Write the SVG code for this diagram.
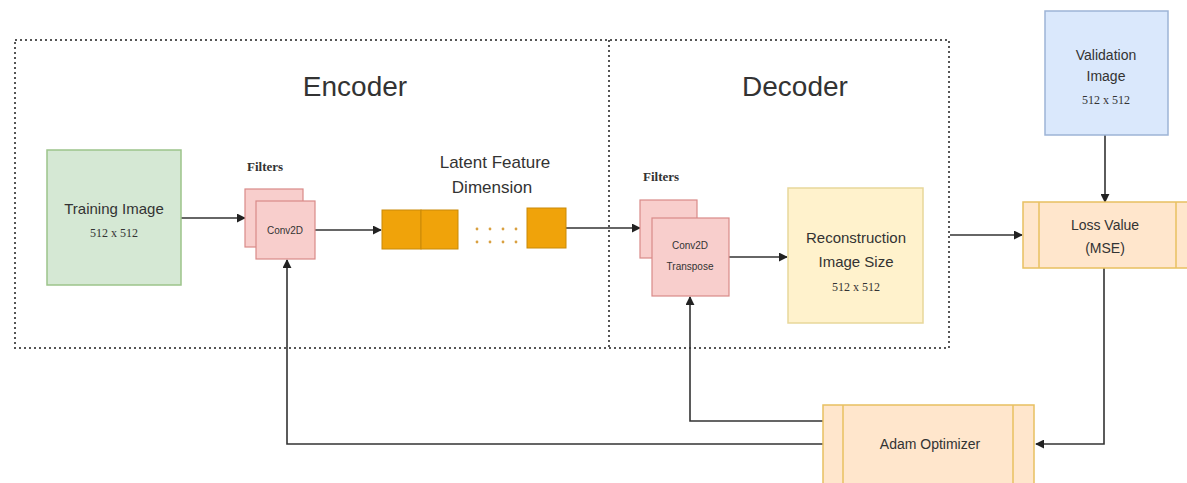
<svg xmlns="http://www.w3.org/2000/svg" width="1187" height="483" viewBox="0 0 1187 483">
<style>
.t{font-family:"Liberation Sans",Arial,sans-serif;fill:#333;text-anchor:middle}
.s{font-family:"Liberation Serif","Times New Roman",serif;fill:#333;text-anchor:middle;font-size:12px}
.f{font-family:"Liberation Serif","Times New Roman",serif;fill:#333;font-size:13px;font-weight:bold}
.ln{fill:none;stroke:#333;stroke-width:1.6}
.pink{fill:#f8cecc;stroke:#d98a88;stroke-width:1.2}
.org{fill:#f0a30a;stroke:#c98a08;stroke-width:1}
.dot{fill:none;stroke:#555;stroke-width:2;stroke-dasharray:2 3}
</style>
<defs>
<marker id="ah" viewBox="0 0 10 10" refX="9" refY="5" markerWidth="9" markerHeight="9" markerUnits="userSpaceOnUse" orient="auto"><path d="M0,0 L10,5 L0,10 z" fill="#222"/></marker>
</defs>
<rect width="1187" height="483" fill="#fff"/>
<g id="containers">
<rect class="dot" x="15" y="40" width="934" height="308"/>
<line class="dot" x1="609" y1="40" x2="609" y2="348"/>
<text class="t" x="355" y="96" font-size="28">Encoder</text>
<text class="t" x="795" y="96" font-size="28">Decoder</text>
</g>
<g id="connectors">
<line class="ln" x1="181" y1="218" x2="245" y2="218" marker-end="url(#ah)"/>
<line class="ln" x1="315" y1="230" x2="381" y2="230" marker-end="url(#ah)"/>
<line class="ln" x1="566" y1="228" x2="640" y2="228" marker-end="url(#ah)"/>
<line class="ln" x1="729" y1="257" x2="787" y2="257" marker-end="url(#ah)"/>
<line class="ln" x1="950" y1="235" x2="1022" y2="235" marker-end="url(#ah)"/>
<line class="ln" x1="1105" y1="135" x2="1105" y2="202" marker-end="url(#ah)"/>
<polyline class="ln" points="1104,268 1104,444 1036,444" marker-end="url(#ah)"/>
<polyline class="ln" points="823,421 690,421 690,297" marker-end="url(#ah)"/>
<polyline class="ln" points="823,444 287,444 287,260" marker-end="url(#ah)"/>
</g>
<g id="training">
<rect x="47" y="150" width="134" height="135" fill="#d5e8d4" stroke="#9cc48a" stroke-width="1.5"/>
<text class="t" x="114" y="214" font-size="15">Training Image</text>
<text class="s" x="114" y="237">512 x 512</text>
</g>
<g id="conv2d">
<text class="f" x="247" y="171">Filters</text>
<rect class="pink" x="245" y="189" width="58" height="58"/>
<rect class="pink" x="256" y="201" width="59" height="58"/>
<text class="t" x="285" y="234" font-size="10">Conv2D</text>
</g>
<g id="latent">
<text class="t" x="495" y="168" font-size="17">Latent Feature</text>
<text class="t" x="492" y="193" font-size="17">Dimension</text>
<rect class="org" x="382" y="210" width="39" height="39"/>
<rect class="org" x="421" y="210" width="37" height="39"/>
<rect class="org" x="527" y="208" width="39" height="40"/>
<g fill="#d9a040">
<circle cx="477" cy="229" r="1.4"/><circle cx="490" cy="229" r="1.4"/><circle cx="503" cy="229" r="1.4"/><circle cx="516" cy="229" r="1.4"/>
<circle cx="477" cy="242" r="1.4"/><circle cx="490" cy="242" r="1.4"/><circle cx="503" cy="242" r="1.4"/><circle cx="516" cy="242" r="1.4"/>
</g>
</g>
<g id="conv2dT">
<text class="f" x="643" y="181">Filters</text>
<rect class="pink" x="640" y="200" width="57" height="58"/>
<rect class="pink" x="652" y="218" width="77" height="78"/>
<text class="t" x="690" y="249" font-size="10">Conv2D</text>
<text class="t" x="690" y="270" font-size="10">Transpose</text>
</g>
<g id="reconstruction">
<rect x="788" y="188" width="135" height="135" fill="#fff2cc" stroke="#e8d79a" stroke-width="1.5"/>
<text class="t" x="856" y="243" font-size="15">Reconstruction</text>
<text class="t" x="856" y="267" font-size="15">Image Size</text>
<text class="s" x="856" y="291">512 x 512</text>
</g>
<g id="validation">
<rect x="1045" y="11" width="123" height="124" fill="#dae8fc" stroke="#9db4d6" stroke-width="1.5"/>
<text class="t" x="1106" y="60" font-size="14">Validation</text>
<text class="t" x="1106" y="81" font-size="14">Image</text>
<text class="s" x="1106" y="104">512 x 512</text>
</g>
<g id="loss">
<rect x="1023" y="202" width="170" height="66" fill="#ffe6cc" stroke="#e8c060" stroke-width="1.5"/>
<line x1="1039" y1="202" x2="1039" y2="268" stroke="#e8c060" stroke-width="1.5"/>
<line x1="1176" y1="202" x2="1176" y2="268" stroke="#e8c060" stroke-width="1.5"/>
<text class="t" x="1105" y="230" font-size="14">Loss Value</text>
<text class="t" x="1105" y="253" font-size="14">(MSE)</text>
</g>
<g id="adam">
<rect x="823" y="405" width="211" height="82" fill="#ffe6cc" stroke="#e8c060" stroke-width="1.5"/>
<line x1="843" y1="405" x2="843" y2="487" stroke="#e8c060" stroke-width="1.5"/>
<line x1="1013" y1="405" x2="1013" y2="487" stroke="#e8c060" stroke-width="1.5"/>
<text class="t" x="930" y="449" font-size="14">Adam Optimizer</text>
</g>
</svg>
